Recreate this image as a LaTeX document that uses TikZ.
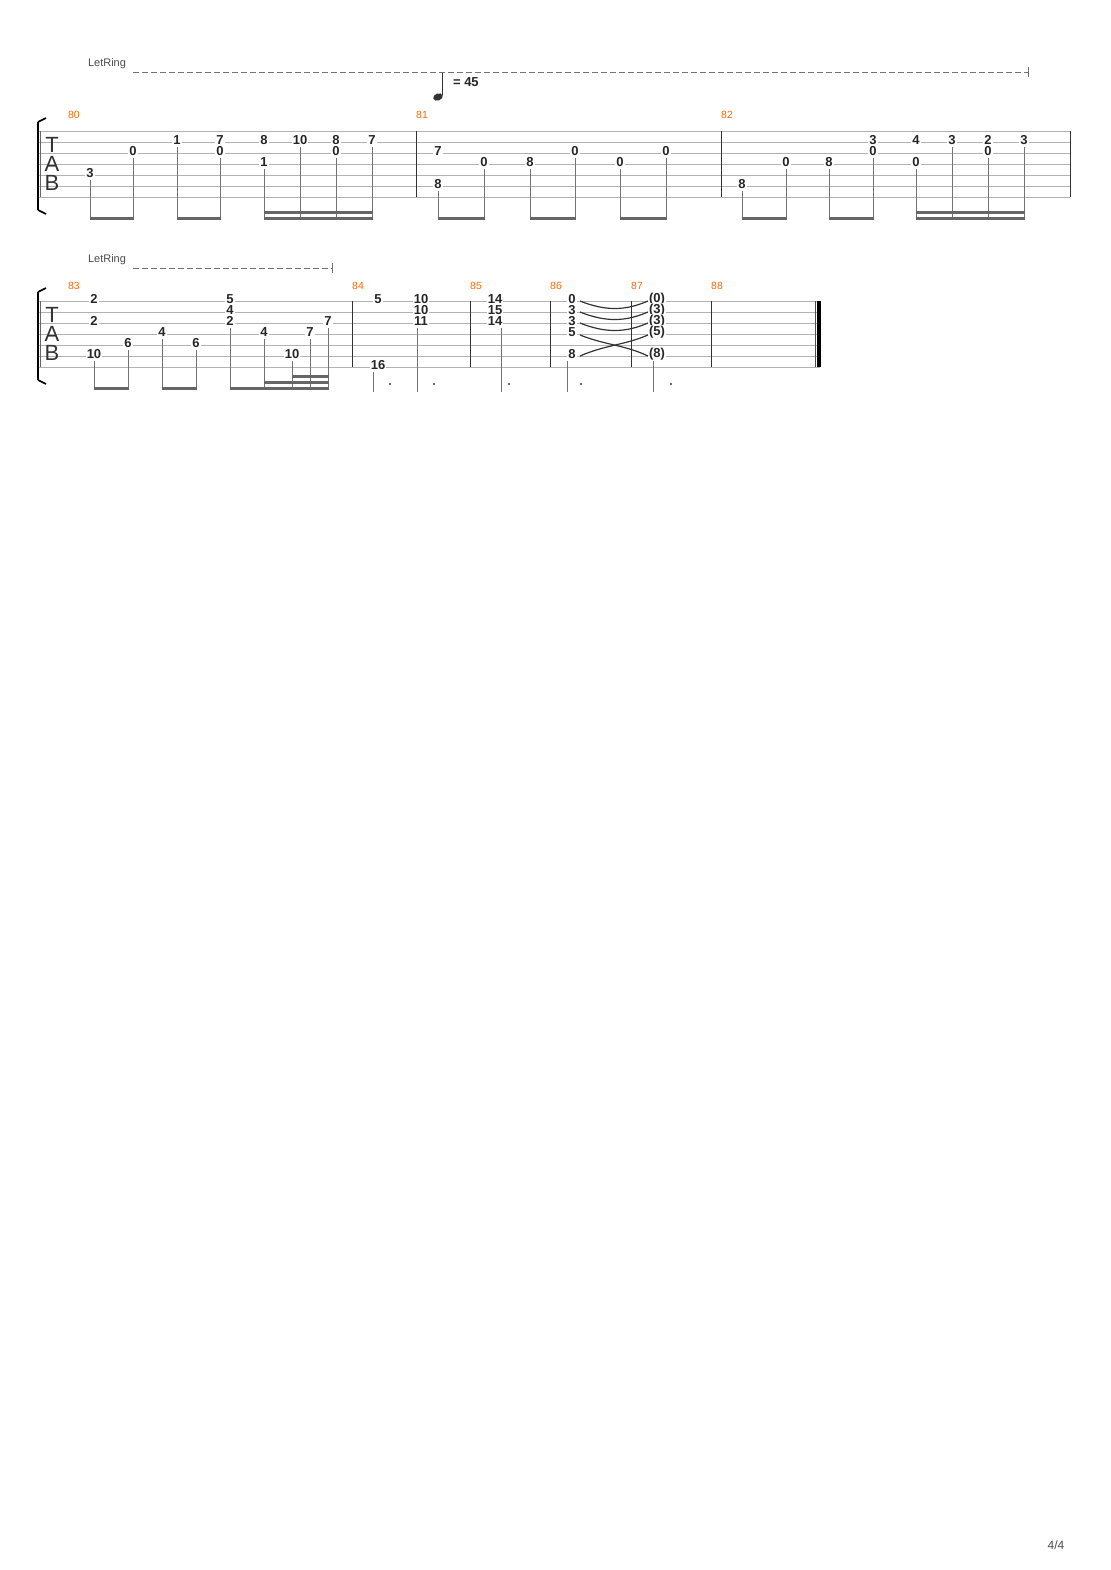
\documentclass[tikz,border=0pt]{standalone}
\usepackage{fontspec}
\setmainfont{Liberation Sans}
\begin{document}
\begin{tikzpicture}[x=0.5pt,y=-0.5pt,
    fret/.style={font=\fontsize{6.5}{7}\selectfont\bfseries, fill=white, inner sep=0.6pt, text=black!85},
    barnum/.style={font=\fontsize{5.2}{6}\selectfont, text=orange!80!red},
    stafflin/.style={black!30, line width=0.4pt},
    barline/.style={black!80, line width=0.5pt},
    stem/.style={black!55, line width=0.5pt},
    beam/.style={black!60, line width=1.4pt},
    ringline/.style={black!55, dashed, dash pattern=on 3pt off 1.5pt, line width=0.5pt}
]
\useasboundingbox (0,0) rectangle (1110,1570);

% Let Ring
\node[font=\fontsize{5.5}{6}\selectfont, text=black!70] (ring1) at (107,64) {LetRing};
\draw[ringline] (133,72) -- (1028,72);
\draw[black!55] (1028,67) -- (1028,77);
\node[font=\fontsize{5.5}{6}\selectfont, text=black!70] (ring2) at (107,260) {LetRing};
\draw[ringline] (133,268) -- (332,268);
\draw[black!55] (332,263) -- (332,273);

% Tempo
\fill[black!80, rotate around={20:(438,97)}] (438,97) ellipse (5 and 3.5);
\draw[black!80, line width=0.6pt] (442.5,95) -- (442.5,73);
\node[font=\fontsize{6.5}{7}\selectfont\bfseries, anchor=west, text=black!85] (tempo) at (446,82) {= 45};

% Staff lines
\foreach \s in {0,...,6} {
  \draw[stafflin] (38,131+11*\s) -- (1070,131+11*\s);
  \draw[stafflin] (38,301+11*\s) -- (820,301+11*\s);
}
% Brackets and TAB
\foreach \top/\bot in {122/210, 292/380} {
  \draw[black, line width=1.2pt] (38,\top) -- (38,\bot);
  \draw[black, line width=0.8pt] (38,\top) -- (46,\top-4);
  \draw[black, line width=0.8pt] (38,\bot) -- (46,\bot+4);
}
\foreach \y in {131, 301} {
  \draw[black!60] (40,\y) -- (40,\y+66);
  \node[font=\fontsize{11}{11}\selectfont, text=black!80] (T\y) at (52,\y+14) {T};
  \node[font=\fontsize{11}{11}\selectfont, text=black!80] (A\y) at (52,\y+33) {A};
  \node[font=\fontsize{11}{11}\selectfont, text=black!80] (B\y) at (52,\y+52) {B};
}

% Bar lines
\foreach \x in {416,721,1070} \draw[barline] (\x,131) -- (\x,197);
\foreach \x in {352,470,550,631,711} \draw[barline] (\x,301) -- (\x,367);
\draw[black!70, line width=0.5pt] (815,301) -- (815,367);
\draw[black, line width=2pt] (819,301) -- (819,367);

% Bar numbers
\foreach \n/\x/\y in {80/74/115, 81/422/115, 82/727/115,
                      83/74/286, 84/358/286, 85/476/286, 86/556/286, 87/637/286, 88/717/286}
  \node[barnum] (bar\n) at (\x,\y) {\n};

% Frets, system 1 (x/string/fret)
\foreach \x/\s/\f [count=\i] in {90/5/3, 133/3/0, 177/2/1, 220/2/7, 220/3/0, 264/2/8, 264/4/1,
    300/2/10, 336/2/8, 336/3/0, 372/2/7,
    438/3/7, 438/6/8, 484/4/0, 530/4/8, 575/3/0, 620/4/0, 666/3/0,
    742/6/8, 786/4/0, 829/4/8, 873/2/3, 873/3/0, 916/2/4, 916/4/0, 952/2/3,
    988/2/2, 988/3/0, 1024/2/3}
  \node[fret] (fa\i) at (\x,118+11*\s) {\f};
% Stems, system 1 (x/lowest string)
\foreach \x/\s in {90/5, 133/3, 177/2, 220/3, 264/4, 300/2, 336/3, 372/2,
    438/6, 484/4, 530/4, 575/3, 620/4, 666/3,
    742/6, 786/4, 829/4, 873/3, 916/4, 952/2, 988/3, 1024/2}
  \draw[stem] (\x,125+11*\s) -- (\x,219);
% Beams, system 1
\foreach \a/\b in {90/133, 177/220, 264/372, 438/484, 530/575, 620/666, 742/786, 829/873, 916/1024}
  \draw[beam] (\a-0.5,218.5) -- (\b+0.5,218.5);
\foreach \a/\b in {264/372, 916/1024}
  \draw[beam] (\a-0.5,212.5) -- (\b+0.5,212.5);

% Frets, system 2
\foreach \x/\s/\f [count=\i] in {94/0/2, 94/2/2, 94/5/10, 128/4/6, 162/3/4, 196/4/6,
    230/0/5, 230/1/4, 230/2/2, 264/3/4, 292/5/10, 310/3/7, 328/2/7,
    378/0/5, 378/6/16, 421/0/10, 421/1/10, 421/2/11,
    495/0/14, 495/1/15, 495/2/14,
    572/0/0, 572/1/3, 572/2/3, 572/3/5, 572/5/8,
    657/0/(0), 657/1/(3), 657/2/(3), 657/3/(5), 657/5/(8)}
  \node[fret] (fb\i) at (\x,299+11*\s) {\f};
% Stems, system 2 with beams
\foreach \x/\s in {94/5, 128/4, 162/3, 196/4, 230/2, 264/3, 292/5, 310/3, 328/2}
  \draw[stem] (\x,306+11*\s) -- (\x,389);
\foreach \a/\b in {94/128, 162/196, 230/328}
  \draw[beam] (\a-0.5,388.5) -- (\b+0.5,388.5);
\draw[beam] (263.5,382.5) -- (328.5,382.5);
\draw[beam] (291.5,376.5) -- (328.5,376.5);
% Dotted half notes
\foreach \x/\s/\d in {373/6/390, 417/2/434, 501/2/509, 567/5/581, 653/5/671} {
  \draw[stem] (\x,306+11*\s) -- (\x,392);
  \fill[black!80] (\d,384) circle (1.2);
}
% Ties 86 -> 87
\foreach \s in {0,1,2}
  \draw[black!80, line width=0.6pt] (580,301+11*\s) .. controls (605,311+11*\s) and (625,311+11*\s) .. (648,301+11*\s);
\draw[black!80, line width=0.6pt] (580,335) .. controls (605,345) and (625,345) .. (648,356);
\draw[black!80, line width=0.6pt] (580,356) .. controls (605,345) and (625,345) .. (648,335);

% Page number
\node[font=\fontsize{6}{7}\selectfont, text=black!70] (page) at (1056,1545) {4/4};
\end{tikzpicture}
\end{document}
